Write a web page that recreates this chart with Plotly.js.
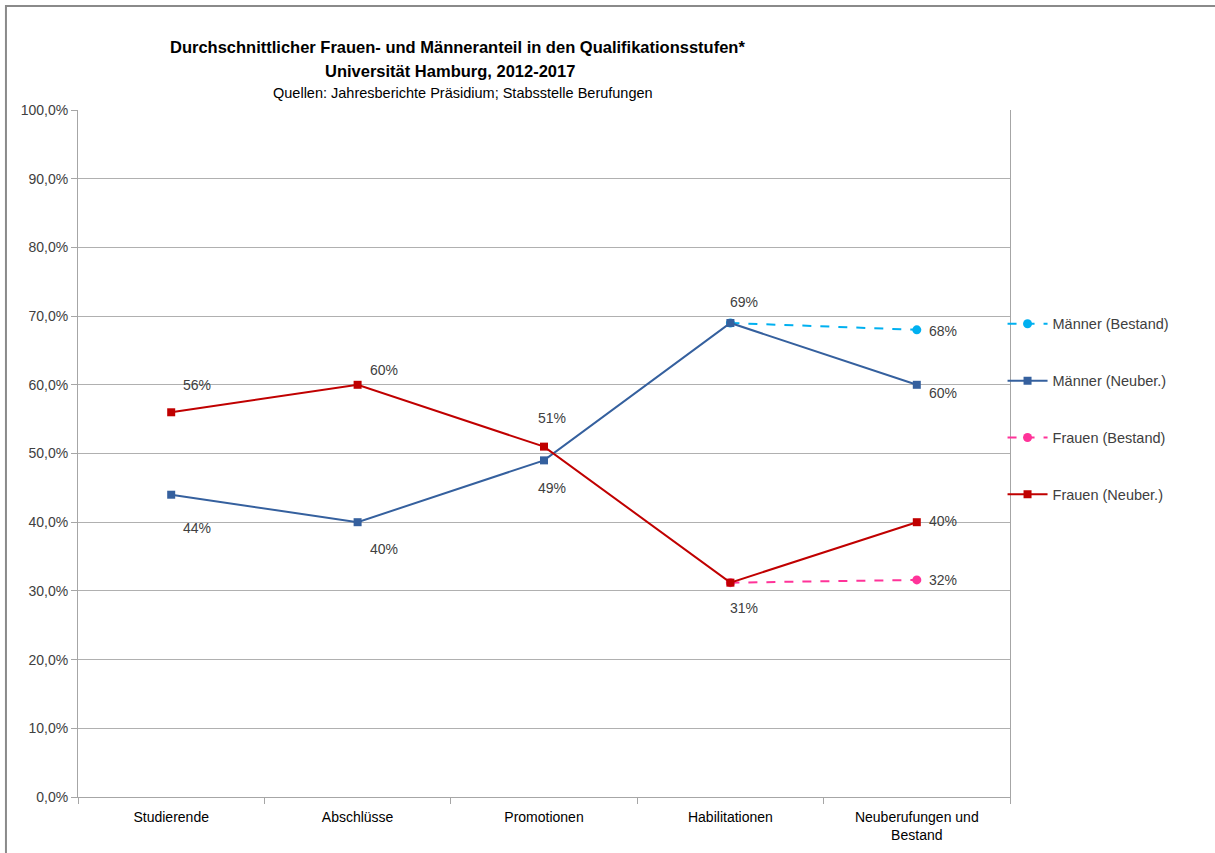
<!DOCTYPE html>
<html>
<head>
<meta charset="utf-8">
<script src="https://cdn.plot.ly/plotly-3.0.1.min.js"></script>
<style>html,body{margin:0;padding:0;background:#fff;}#chart{width:1215px;height:853px;}</style>
</head>
<body>
<div id="chart"></div>
<script>
const categories = ["Studierende", "Abschlüsse", "Promotionen", "Habilitationen", "Neuberufungen und<br>Bestand"];
const maennerBestand = [null, null, null, 69, 68];
const maennerNeuber = [44, 40, 49, 69, 60];
const frauenBestand = [null, null, null, 31.2, 31.6];
const frauenNeuber = [56, 60, 51, 31.2, 40];
const labelsMaennerBestand = [null, null, null, null, "68%"];
const labelsMaennerNeuber = ["44%", "40%", "49%", "69%", "60%"];
const labelsFrauenBestand = [null, null, null, null, "32%"];
const labelsFrauenNeuber = ["56%", "60%", "51%", "31%", "40%"];
const tickVals = [0, 10, 20, 30, 40, 50, 60, 70, 80, 90, 100];
const tickText = tickVals.map(v => v.toFixed(1).replace(".", ",") + "%");

const FONT = "Liberation Sans, Arial, sans-serif";
const TXT = "#404040";

const traces = [
  {name: "Männer (Bestand)", x: categories, y: maennerBestand, mode: "lines+markers", legendgroup: "a",
   line: {color: "#00B0F0", width: 2, dash: "dash"}, marker: {symbol: "circle", size: 9, color: "#00B0F0"}},
  {name: "Männer (Neuber.)", x: categories, y: maennerNeuber, mode: "lines+markers", legendgroup: "b",
   line: {color: "#35609E", width: 2}, marker: {symbol: "square", size: 8, color: "#35609E"}},
  {name: "Frauen (Bestand)", x: categories, y: frauenBestand, mode: "lines+markers", legendgroup: "c",
   line: {color: "#FF3399", width: 2, dash: "dash"}, marker: {symbol: "circle", size: 9, color: "#FF3399"}},
  {name: "Frauen (Neuber.)", x: categories, y: frauenNeuber, mode: "lines+markers", legendgroup: "d",
   line: {color: "#C00000", width: 2}, marker: {symbol: "square", size: 8, color: "#C00000"}}
];

const annotations = [];
function addLabels(vals, labels, offs) {
  vals.forEach((v, i) => {
    if (labels[i] == null || v == null) return;
    annotations.push({x: categories[i], y: v, xref: "x", yref: "y", text: labels[i], showarrow: false,
      xshift: offs[i][0], yshift: offs[i][1], font: {family: FONT, size: 14, color: TXT}});
  });
}
addLabels(maennerNeuber, labelsMaennerNeuber, [[26,-33],[26,-27],[8,-28],[14,21],[26,-8]]);
addLabels(frauenNeuber, labelsFrauenNeuber, [[26,27],[26,15],[8,29],[14,-25],[26,1]]);
addLabels(maennerBestand, labelsMaennerBestand, [[0,0],[0,0],[0,0],[0,0],[26,-1]]);
addLabels(frauenBestand, labelsFrauenBestand, [[0,0],[0,0],[0,0],[0,0],[26,0]]);

annotations.push({xref: "paper", yref: "paper", x: 0.407, y: 1.0917, text: "<b>Durchschnittlicher Frauen- und Männeranteil in den Qualifikationsstufen*</b>",
  showarrow: false, font: {family: FONT, size: 16.5, color: "#000"}, xanchor: "center", yanchor: "middle"});
annotations.push({xref: "paper", yref: "paper", x: 0.399, y: 1.0568, text: "<b>Universität Hamburg, 2012-2017</b>",
  showarrow: false, font: {family: FONT, size: 16.5, color: "#000"}, xanchor: "center", yanchor: "middle"});
annotations.push({xref: "paper", yref: "paper", x: 0.413, y: 1.0247, text: "Quellen: Jahresberichte Präsidium; Stabsstelle Berufungen",
  showarrow: false, font: {family: FONT, size: 14.5, color: "#000"}, xanchor: "center", yanchor: "middle"});

const layout = {
  width: 1215, height: 853,
  margin: {l: 78, r: 205, t: 110, b: 56},
  paper_bgcolor: "#fff", plot_bgcolor: "#fff",
  font: {family: FONT, size: 14, color: TXT},
  showlegend: true,
  legend: {x: 0.992, xanchor: "left", y: 0.712, yanchor: "top", traceorder: "grouped", tracegroupgap: 35,
           font: {family: FONT, size: 14.5, color: TXT}, itemwidth: 40, bgcolor: "rgba(0,0,0,0)"},
  xaxis: {type: "category", range: [-0.5, 4.5], showgrid: false, showline: true, linecolor: "#a6a6a6", linewidth: 1,
          ticks: "outside", tickson: "boundaries", ticklen: 6, tickcolor: "#a6a6a6", ticklabelstandoff: 7,
          tickfont: {family: FONT, size: 14, color: "#000"}, zeroline: false, fixedrange: true},
  yaxis: {range: [0, 100], tickmode: "array", tickvals: tickVals, ticktext: tickText, showgrid: true, gridcolor: "#b0b0b0", gridwidth: 1,
          showline: true, mirror: true, linecolor: "#a6a6a6", linewidth: 1, ticks: "outside", ticklen: 6, tickcolor: "#a6a6a6",
          tickfont: {family: FONT, size: 14, color: TXT}, zeroline: false, fixedrange: true},
  annotations: annotations,
  shapes: [{type: "rect", xref: "paper", yref: "paper", x0: -0.0773, x1: 1.3, y0: -0.2, y1: 1.1514,
            line: {color: "#8a8a8a", width: 2}, fillcolor: "rgba(0,0,0,0)", layer: "below"}]
};

Plotly.newPlot("chart", traces, layout, {displayModeBar: false, staticPlot: true});
</script>
</body>
</html>
